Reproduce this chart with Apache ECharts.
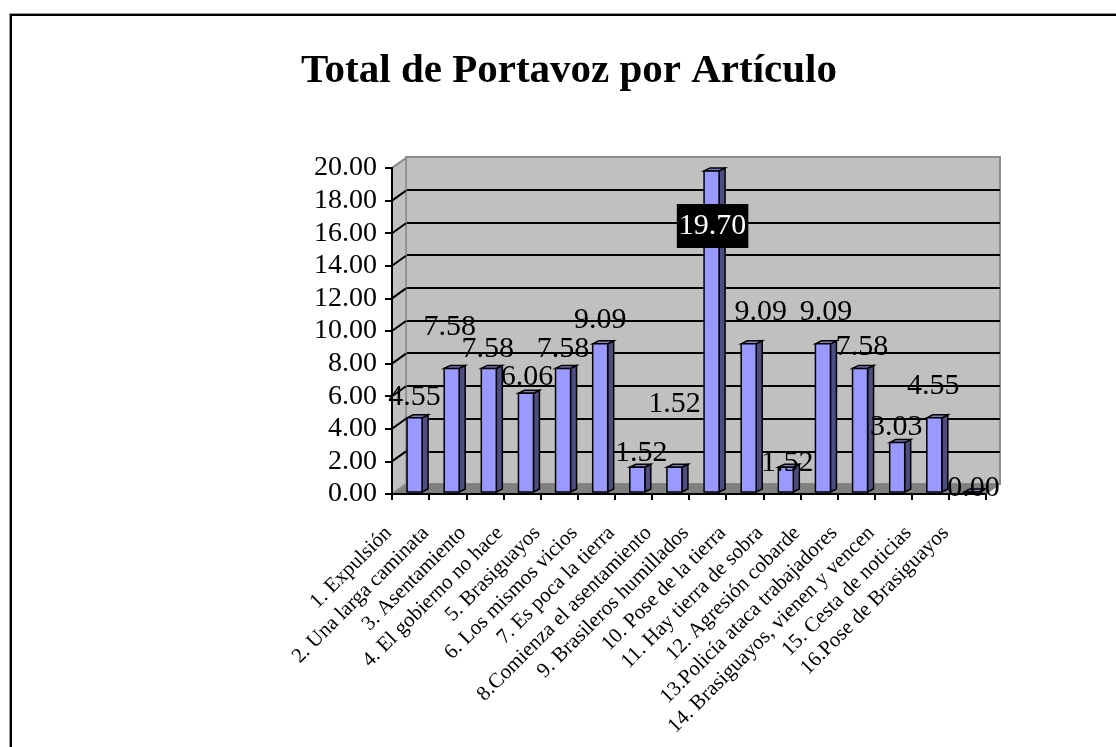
<!DOCTYPE html>
<html><head><meta charset="utf-8">
<style>html,body{margin:0;padding:0;background:#fff}#c{width:1116px;height:747px}</style>
<script src="https://cdn.jsdelivr.net/npm/echarts@6/dist/echarts.min.js"></script></head>
<body><div id="c"></div>
<script>
const categories = ["1. Expulsión","2. Una larga caminata","3. Asentamiento","4. El gobierno no hace","5. Brasiguayos","6. Los mismos vicios","7. Es poca la tierra","8.Comienza el asentamiento","9. Brasileros humillados","10. Pose de la tierra","11. Hay tierra de sobra","12. Agresión cobarde","13.Policía ataca trabajadores","14. Brasiguayos, vienen y vencen","15. Cesta de noticias","16.Pose de Brasiguayos"];
const values = [4.55,7.58,7.58,6.06,7.58,9.09,1.52,1.52,19.70,9.09,1.52,9.09,7.58,3.03,4.55,0.00];
const labelNudgeX = [0,-2,-1,1,0,0,4,0,1,12,1.5,3,2,-1,-1,2];
const labelNudgeY = [-23,-43,-21,-18,-21,-26,-16,-65,53,-34,-6,-34,-23,-17,-34,-6];
const serif = '"Liberation Serif","Times New Roman",serif';
const DX = 14, DY = -10, bw = 15, bOff = 4, bLift = 2, sideX = 6, sideY = -3;
const poly = (points, fill, stroke, lw) => ({type:'polygon', shape:{points}, style:{fill, stroke, lineWidth:lw}});

const chart = echarts.init(document.getElementById('c'));
chart.setOption({
  animation:false,
  backgroundColor:'#fff',
  title:{text:'Total de Portavoz por Artículo',left:564,top:46,textAlign:'center',
    textStyle:{fontFamily:serif,fontWeight:'bold',fontSize:41,color:'#000'}},
  graphic:[
    {type:'polyline',silent:true,shape:{points:[[9.5,760],[9.5,13.5],[1120,13.5]]},style:{fill:'none',stroke:'#999',lineWidth:1}},
    {type:'polyline',silent:true,shape:{points:[[11,760],[11,15],[1120,15]]},style:{fill:'none',stroke:'#000',lineWidth:2}}
  ],
  grid:[
    {left:392,top:168,width:594,height:326,z:3},
    {left:406,top:157,width:594,height:327,show:true,backgroundColor:'#c0c0c0',borderColor:'#8c8c8c',borderWidth:2,z:1}
  ],
  xAxis:[
    {type:'category',gridIndex:0,data:categories,z:5,
     axisLine:{lineStyle:{color:'#000',width:2}},axisTick:{show:true,alignWithLabel:false,length:6,lineStyle:{color:'#000',width:2}},
     axisLabel:{interval:0,rotate:45,fontFamily:serif,fontSize:21,color:'#000',margin:14,padding:[0,31,0,0]}},
    {type:'category',gridIndex:1,data:categories,axisLine:{show:false},axisTick:{show:false},axisLabel:{show:false}}
  ],
  yAxis:[
    {type:'value',gridIndex:0,min:0,max:20,interval:2,z:5,
     axisLine:{show:true,lineStyle:{color:'#000',width:2}},axisTick:{show:true,length:7,lineStyle:{color:'#000',width:2}},
     splitLine:{show:false},
     axisLabel:{formatter:v=>v.toFixed(2),fontFamily:serif,fontSize:28,color:'#000',margin:15}},
    {type:'value',gridIndex:1,min:0,max:20,interval:2,z:2,axisLine:{show:false},axisTick:{show:false},axisLabel:{show:false},
     splitLine:{show:true,showMinLine:false,showMaxLine:false,lineStyle:{color:'#000',width:2}}}
  ],
  series:[
    {type:'custom',xAxisIndex:0,yAxisIndex:0,z:3,silent:true,clip:false,data:[[0]],
     renderItem:(p,api)=>{
       const a=api.coord([0,0]), b=api.coord([15,0]);
       const x0=a[0]-api.size([1,0])[0]/2, x1=b[0]+api.size([1,0])[0]/2, y0=a[1];
       const top=api.coord([0,20])[1];
       const children=[
         poly([[x0,y0],[x0+DX,y0+DY],[x0+DX,top+DY],[x0,top]],'#c0c0c0','#8c8c8c',1.5),
         poly([[x0,y0],[x1,y0],[x1+DX,y0+DY],[x0+DX,y0+DY]],'#808080','#808080',1)
       ];
       for(let v=0;v<=20;v+=2){
         const y=api.coord([0,v])[1];
         children.push({type:'line',shape:{x1:x0,y1:y,x2:x0+DX,y2:y+DY},style:{stroke:v===20||v===0?'#8c8c8c':'#000',lineWidth:2}});
       }
       return {type:'group',children};
     }},
    {type:'custom',xAxisIndex:0,yAxisIndex:0,z:4,silent:true,clip:false,encode:{x:0,y:1},
     data:values.map((v,i)=>[i,v]),
     renderItem:(p,api)=>{
       const c=api.coord([api.value(0),api.value(1)]), z=api.coord([api.value(0),0]);
       const l=c[0]+bOff-bw/2, r=l+bw, t=c[1]-bLift, b=z[1]-bLift;
       return {type:'group',children:[
         poly([[r,t],[r+sideX,t+sideY],[r+sideX,b+sideY],[r,b]],'#4d4d80','#000',1.5),
         poly([[l,t],[l+sideX,t+sideY],[r+sideX,t+sideY],[r,t]],'#8080c0','#000',1.5),
         poly([[l,t],[r,t],[r,b],[l,b]],'#9999ff','#000',1.5)
       ]};
     }},
    {type:'custom',xAxisIndex:0,yAxisIndex:0,z:6,silent:true,clip:false,encode:{x:0,y:1},
     data:values.map((v,i)=>[i,v]),
     renderItem:(p,api)=>{
       const i=api.value(0), v=api.value(1), c=api.coord([i,v]);
       const hi=v>15;
       return {type:'text',x:c[0]+bOff+labelNudgeX[i],y:c[1]+labelNudgeY[i],
         style:{text:v.toFixed(2),fontFamily:serif,fontSize:30,align:'center',verticalAlign:'middle',
           fill:hi?'#fff':'#000',backgroundColor:hi?'#000':'transparent',padding:hi?[8,2,6,2]:0}};
     }}
  ]
});
</script></body></html>
